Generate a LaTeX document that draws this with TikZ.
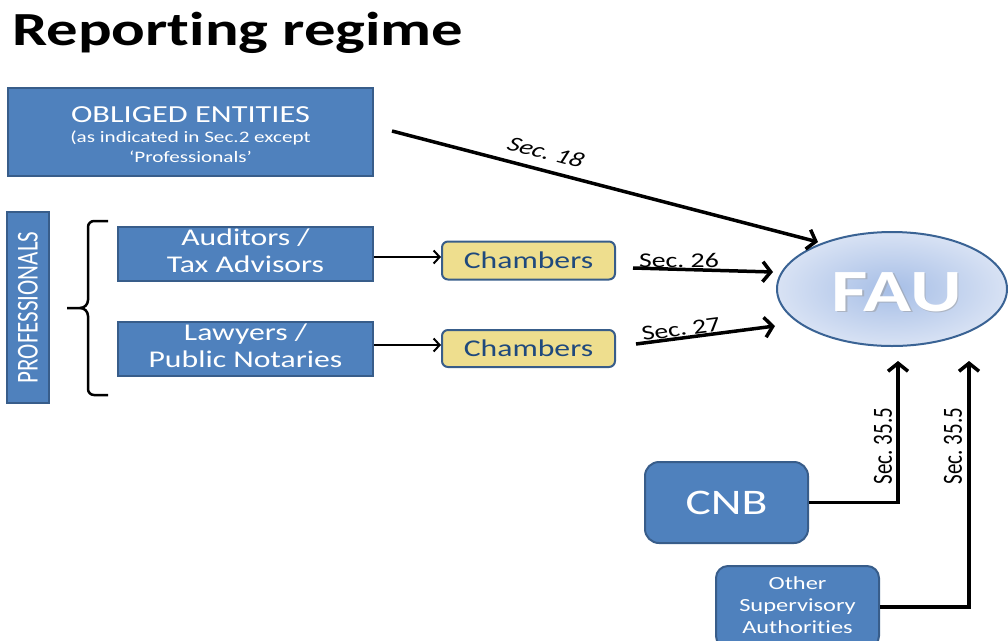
\documentclass[tikz,border=0pt]{standalone}
\usepackage{fontspec}
\setmainfont{Carlito}[Ligatures={NoCommon}]
\usetikzlibrary{arrows.meta,shapes.geometric,calc}
\newcommand\sx[1]{\scalebox{1.32}[1]{#1}}
\newcommand\fs[1]{\fontsize{#1}{#1}\selectfont}
\definecolor{boxblue}{RGB}{79,129,189}
\definecolor{boxedge}{RGB}{56,93,138}
\definecolor{chamberfill}{RGB}{238,222,142}
\definecolor{chambertext}{RGB}{31,73,125}
\definecolor{fauin}{RGB}{166,190,230}
\definecolor{fauout}{RGB}{216,226,244}
\definecolor{fauedge}{RGB}{58,99,148}
\frenchspacing
\begin{document}
\begin{tikzpicture}[x=1pt,y=-1pt,
  bluebox/.style={draw=boxedge, fill=boxblue, line width=2pt, text=white, inner sep=0pt, align=center},
  chamberbox/.style={draw=boxedge, fill=chamberfill, line width=2pt, text=chambertext, inner sep=0pt, rounded corners=6pt},
  thinarrow/.style={line width=2pt, -{Straight Barb[length=6pt,width=13pt]}},
  thickarrow/.style={line width=3.5pt, -{Straight Barb[length=8pt,width=20pt]}},
  lbl/.style={inner sep=0pt, text=black}]
\useasboundingbox (0,0) rectangle (1008,640);
\clip (0,0) rectangle (1008,640);

% title
\node[lbl, anchor=base west] (title) at (12,45) {\sx{\fs{47.5}\bfseries Reporting regime}};

% obliged entities
\node[bluebox, minimum width=365pt, minimum height=88pt] (obl) at (190.5,132)
  {\raisebox{-5pt}[\height][\depth]{\sx{\fontsize{16}{19.5}\selectfont\begin{tabular}{@{}c@{}}\fs{24.5}OBLIGED ENTITIES\\[1pt]
   (as indicated in Sec.2 except\\ `Professionals'\end{tabular}}}};

% professionals
\node[bluebox, minimum width=42pt, minimum height=191pt] (prof) at (28,307.5)
  {\sx{\rotatebox{90}{\fs{23}PROFESSIONALS}}};

% brace
\coordinate (brtop) at (108,221);
\coordinate (brmid) at (67,308);
\coordinate (brbot) at (108,395);
\draw[line width=2.5pt] (brtop) -- (94,221) to[out=180,in=90] (88,227) -- (88,300)
  to[out=-90,in=0] (80,308) -- (brmid);
\draw[line width=2.5pt] (brbot) -- (94,395) to[out=180,in=-90] (88,389) -- (88,316)
  to[out=90,in=0] (80,308);

% professionals boxes
\node[bluebox, minimum width=255pt, minimum height=52pt] (aud) at (245.5,253.5)
  {\sx{\fontsize{24}{27}\selectfont\begin{tabular}{@{}c@{}}Auditors /\\ Tax Advisors\end{tabular}}};
\node[bluebox, minimum width=255pt, minimum height=52pt] (law) at (245.5,348.5)
  {\sx{\fontsize{24}{27}\selectfont\begin{tabular}{@{}c@{}}Lawyers /\\ Public Notaries\end{tabular}}};

% chambers
\node[chamberbox, minimum width=173pt, minimum height=38pt] (ch1) at (528.5,260.5)
  {\sx{\fs{24}Chambers}};
\node[chamberbox, minimum width=173pt, minimum height=37pt] (ch2) at (528.5,348.5)
  {\sx{\fs{24}Chambers}};

% FAU
\node[ellipse, draw=fauedge, line width=2pt, inner color=fauin, outer color=fauout,
  minimum width=230pt, minimum height=114pt] (fau) at (892,289) {};
\node[lbl, text=black!40, opacity=0.5] (faushadow) at (898.5,293.5) {\sx{\fs{60}\bfseries FAU}};
\node[lbl, text=white] (fautext) at (897,292) {\sx{\fs{60}\bfseries FAU}};

% CNB and other supervisors
\node[bluebox, rounded corners=14pt, minimum width=163pt, minimum height=81pt] (cnb) at (726.5,502.5)
  {\sx{\fs{36}CNB}};
\node[bluebox, rounded corners=12pt, minimum width=163pt, minimum height=82pt] (osa) at (797.5,607)
  {\sx{\fontsize{18.5}{22}\selectfont\begin{tabular}{@{}c@{}}Other\\ Supervisory\\ Authorities\end{tabular}}};

% connectors
\draw[thinarrow] ([yshift=-3.5pt]aud.east) -- ([yshift=-3.5pt]aud.east -| ch1.west);
\draw[thinarrow] ([yshift=3.5pt]law.east) -- ([yshift=3.5pt]law.east -| ch2.west);

\coordinate (s18a) at (392,131);
\coordinate (s18b) at (818,242);
\draw[thickarrow] (s18a) -- (s18b);
\node[lbl] (l18) at (546,152) {\sx{\rotatebox{-19}{\fs{21}\itshape Sec. 18}}};

\coordinate (s26a) at (633,268);
\coordinate (s26b) at (773,272);
\draw[thickarrow] (s26a) -- (s26b);
\node[lbl] (l26) at (679,260) {\sx{\fs{21}Sec. 26}};

\coordinate (s27a) at (636,344);
\coordinate (s27b) at (775,326);
\draw[thickarrow] (s27a) -- (s27b);
\node[lbl] (l27) at (681,329) {\sx{\rotatebox{9.7}{\fs{21}Sec. 27}}};

\coordinate (cnbtip) at (898,361);
\draw[thickarrow] (cnb.east) -| (cnbtip);
\node[lbl] (l355a) at (883,446) {\sx{\rotatebox{90}{\fs{21}Sec. 35.5}}};

\coordinate (osatip) at (969,361);
\draw[thickarrow] (osa.east) -| (osatip);
\node[lbl] (l355b) at (953,446) {\sx{\rotatebox{90}{\fs{21}Sec. 35.5}}};
\end{tikzpicture}
\end{document}
